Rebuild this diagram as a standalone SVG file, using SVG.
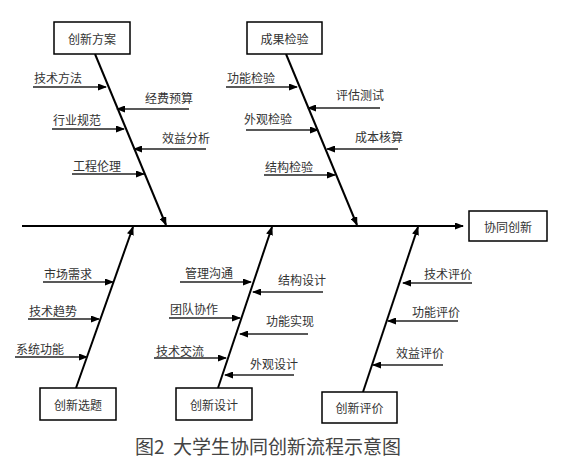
<svg xmlns="http://www.w3.org/2000/svg" width="571" height="462" viewBox="0 0 571 462">
<defs>
<marker id="ah" markerUnits="userSpaceOnUse" markerWidth="9" markerHeight="7" refX="8" refY="3.5" orient="auto">
<path d="M0,0 L9,3.5 L0,7 z" fill="#000"/>
</marker>
<style>
.box{fill:#fff;stroke:#000;stroke-width:1.5}
.bt{font-family:"Noto Sans CJK SC","Noto Sans",sans-serif;font-size:12px;fill:#333;text-anchor:middle;dominant-baseline:central}
.lt{font-family:"Noto Sans CJK SC","Noto Sans",sans-serif;font-size:12px;fill:#333;dominant-baseline:central}
.bone{stroke:#000;stroke-width:2;fill:none}
.sub{stroke:#222;stroke-width:1.3;fill:none}
.cap{font-family:"Noto Sans CJK SC","Noto Sans",sans-serif;font-size:19px;fill:#444;dominant-baseline:central}
</style>
</defs>
<rect width="571" height="462" fill="#fff"/>
<g id="connectors">
<line class="bone" x1="22" y1="226" x2="463" y2="226" marker-end="url(#ah)"/>
<line class="bone" x1="95" y1="54" x2="166" y2="225" marker-end="url(#ah)"/>
<line class="bone" x1="286" y1="54" x2="357" y2="225" marker-end="url(#ah)"/>
<line class="bone" x1="76" y1="388" x2="133" y2="227" marker-end="url(#ah)"/>
<line class="bone" x1="218" y1="388" x2="272" y2="227" marker-end="url(#ah)"/>
<line class="bone" x1="363" y1="392" x2="418" y2="227" marker-end="url(#ah)"/>
<line class="sub" x1="33" y1="87" x2="106" y2="87" marker-end="url(#ah)"/>
<line class="sub" x1="189" y1="109" x2="117" y2="109" marker-end="url(#ah)"/>
<line class="sub" x1="52" y1="129" x2="124" y2="129" marker-end="url(#ah)"/>
<line class="sub" x1="206" y1="149" x2="134" y2="149" marker-end="url(#ah)"/>
<line class="sub" x1="72" y1="174" x2="144" y2="174" marker-end="url(#ah)"/>
<line class="sub" x1="226" y1="87" x2="297" y2="87" marker-end="url(#ah)"/>
<line class="sub" x1="380" y1="108" x2="308" y2="108" marker-end="url(#ah)"/>
<line class="sub" x1="246" y1="130" x2="318" y2="130" marker-end="url(#ah)"/>
<line class="sub" x1="398" y1="149" x2="327" y2="149" marker-end="url(#ah)"/>
<line class="sub" x1="264" y1="175" x2="335" y2="175" marker-end="url(#ah)"/>
<line class="sub" x1="43" y1="282" x2="113" y2="282" marker-end="url(#ah)"/>
<line class="sub" x1="28" y1="319" x2="99" y2="319" marker-end="url(#ah)"/>
<line class="sub" x1="15" y1="357" x2="87" y2="357" marker-end="url(#ah)"/>
<line class="sub" x1="180" y1="282" x2="251" y2="282" marker-end="url(#ah)"/>
<line class="sub" x1="169" y1="318" x2="240" y2="318" marker-end="url(#ah)"/>
<line class="sub" x1="154" y1="358" x2="226" y2="358" marker-end="url(#ah)"/>
<line class="sub" x1="323" y1="292" x2="253" y2="292" marker-end="url(#ah)"/>
<line class="sub" x1="308" y1="334" x2="240" y2="334" marker-end="url(#ah)"/>
<line class="sub" x1="294" y1="375" x2="225" y2="375" marker-end="url(#ah)"/>
<line class="sub" x1="472" y1="283" x2="403" y2="283" marker-end="url(#ah)"/>
<line class="sub" x1="458" y1="321" x2="388" y2="321" marker-end="url(#ah)"/>
<line class="sub" x1="443" y1="365" x2="373" y2="365" marker-end="url(#ah)"/>
</g>
<g id="n-chuangxinfangan"><rect class="box" x="54" y="22" width="76" height="32"/><text class="bt" x="92" y="38">创新方案</text></g>
<g id="n-chengguojianyan"><rect class="box" x="247" y="22" width="75" height="32"/><text class="bt" x="284.5" y="38">成果检验</text></g>
<g id="n-xietongchuangxin"><rect class="box" x="469" y="211" width="78" height="30"/><text class="bt" x="508" y="226">协同创新</text></g>
<g id="n-chuangxinxuanti"><rect class="box" x="40" y="388" width="76" height="32"/><text class="bt" x="78" y="404">创新选题</text></g>
<g id="n-chuangxinsheji"><rect class="box" x="176" y="388" width="76" height="32"/><text class="bt" x="214" y="404">创新设计</text></g>
<g id="n-chuangxinpingjia"><rect class="box" x="322" y="392" width="75" height="31"/><text class="bt" x="359.5" y="407.5">创新评价</text></g>
<g id="labels">
<text class="lt" x="34" y="77">技术方法</text>
<text class="lt" x="145" y="97">经费预算</text>
<text class="lt" x="53" y="119">行业规范</text>
<text class="lt" x="162" y="137">效益分析</text>
<text class="lt" x="73" y="165">工程伦理</text>
<text class="lt" x="227" y="77">功能检验</text>
<text class="lt" x="336" y="94">评估测试</text>
<text class="lt" x="244" y="118">外观检验</text>
<text class="lt" x="355" y="136">成本核算</text>
<text class="lt" x="265" y="166">结构检验</text>
<text class="lt" x="44" y="273">市场需求</text>
<text class="lt" x="29" y="310">技术趋势</text>
<text class="lt" x="16" y="348">系统功能</text>
<text class="lt" x="185" y="272">管理沟通</text>
<text class="lt" x="170" y="308">团队协作</text>
<text class="lt" x="156" y="350">技术交流</text>
<text class="lt" x="278" y="279">结构设计</text>
<text class="lt" x="266" y="320">功能实现</text>
<text class="lt" x="250" y="363">外观设计</text>
<text class="lt" x="424" y="273">技术评价</text>
<text class="lt" x="412" y="311">功能评价</text>
<text class="lt" x="396" y="352">效益评价</text>
</g>
<text class="cap" x="135" y="445">图2 <tspan x="173">大学生协同创新流程示意图</tspan></text>
</svg>
